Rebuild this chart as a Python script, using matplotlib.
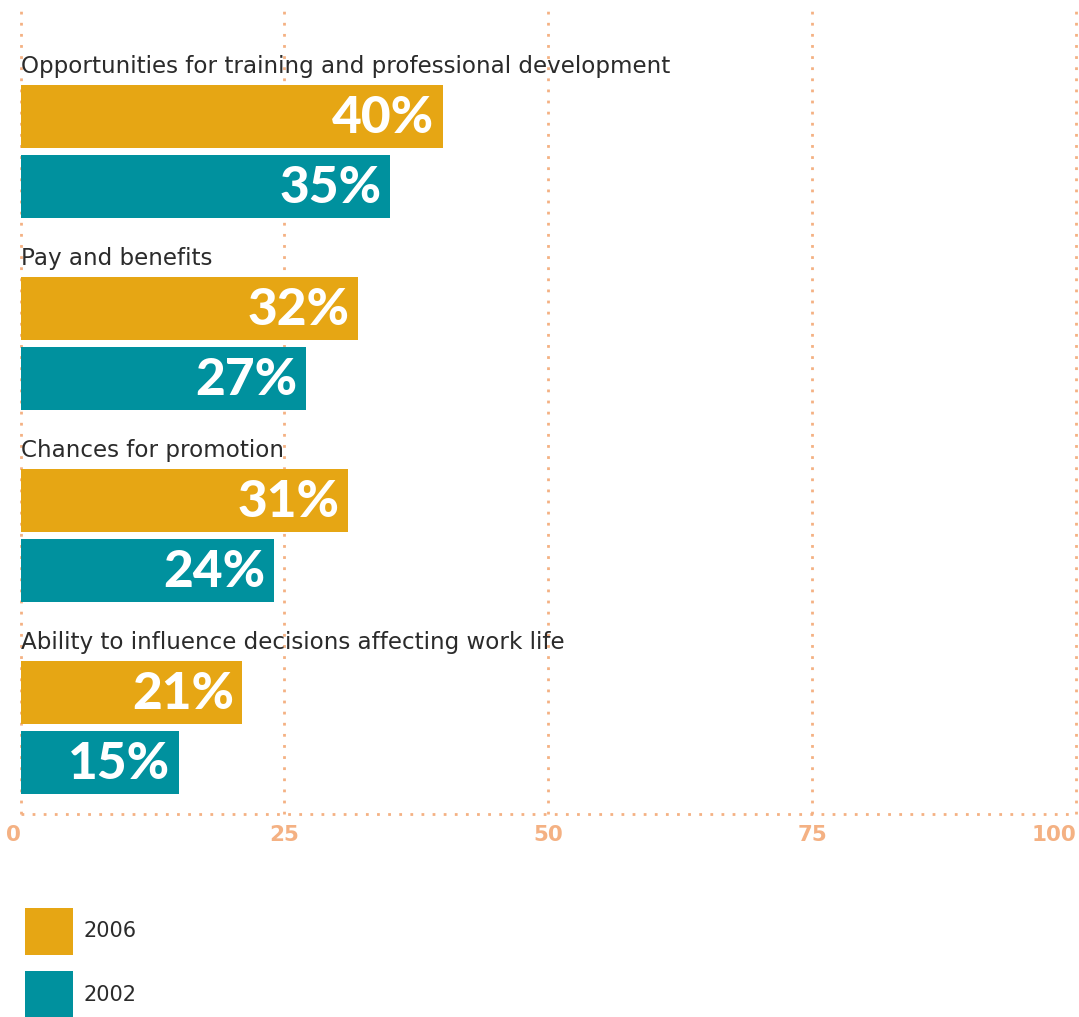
import matplotlib.pyplot as plt
from matplotlib.patches import Patch

categories = [
    'Opportunities for training and professional development',
    'Pay and benefits',
    'Chances for promotion',
    'Ability to influence decisions affecting work life',
]
vals_2006 = [40, 32, 31, 21]
vals_2002 = [35, 27, 24, 15]
years = ['2006', '2002']
ticks = [0, 25, 50, 75, 100]

gold = '#E6A614'
teal = '#00919E'
peach = '#F4B183'
dark = '#2B2B2B'

plt.rcParams['font.family'] = ['DejaVu Sans']

W, H = 1079, 1017
fig = plt.figure(figsize=(W / 100, H / 100), dpi=100)
ax = fig.add_axes([20.6 / W, 1 - 814 / H, (1076 - 20.6) / W, (814 - 10) / H])

bar_h = 0.33
off_2002 = 0.365
for i, cat in enumerate(categories):
    ax.barh(i, vals_2006[i], height=bar_h, color=gold, clip_on=False, zorder=3)
    ax.barh(i + off_2002, vals_2002[i], height=bar_h, color=teal, clip_on=False, zorder=3)
    ax.text(0, i - 0.26, cat, fontsize=16.6, color=dark, va='center', ha='left', zorder=4)
    ax.text(vals_2006[i] - 0.8, i + 0.01, '{}%'.format(vals_2006[i]), fontsize=37,
            family='Lato', fontweight='black', color='white', va='center', ha='right', zorder=4)
    ax.text(vals_2002[i] - 0.8, i + off_2002 + 0.01, '{}%'.format(vals_2002[i]), fontsize=37,
            family='Lato', fontweight='black', color='white', va='center', ha='right', zorder=4)

ax.set_xlim(0, 100)
ax.set_ylim(3.633, -0.555)

# dotted grid: one line per tick plus the baseline
for t in ticks:
    ax.axvline(t, color=peach, linestyle=(0, (1, 3)), linewidth=2, zorder=1, clip_on=False)
ax.axhline(3.633, color=peach, linestyle=(0, (1, 3)), linewidth=2, zorder=1, clip_on=False)

for s in ax.spines.values():
    s.set_visible(False)
ax.set_yticks([])
ax.set_xticks(ticks)
ax.set_xticklabels([str(t) for t in ticks], fontsize=15.5, fontweight='bold', color=peach)
ax.tick_params(axis='x', length=0, pad=8)
lbls = ax.get_xticklabels()
lbls[0].set_ha('right')
lbls[-1].set_ha('right')

handles = [Patch(facecolor=gold, edgecolor='none'), Patch(facecolor=teal, edgecolor='none')]
fig.legend(handles, years, loc='upper left', bbox_to_anchor=(10 / W, 1 - 893 / H),
           frameon=False, handlelength=2.3, handleheight=3.1,
           handletextpad=0.55, labelspacing=0.8, labelcolor=dark, borderaxespad=0.3,
           prop={'size': 15})

fig.savefig('out.png', dpi=100)
